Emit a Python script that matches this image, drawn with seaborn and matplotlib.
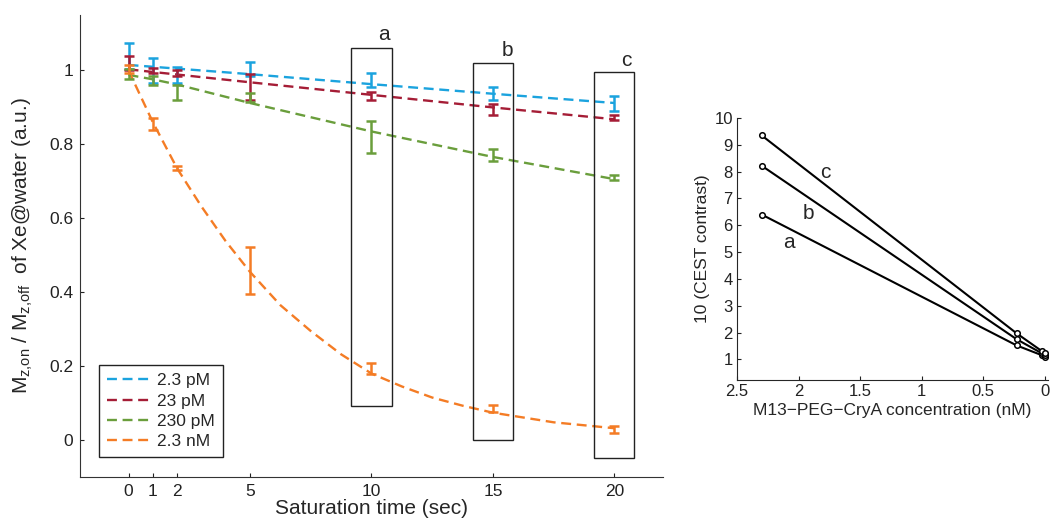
import numpy as np
import pandas as pd
import matplotlib
matplotlib.use("Agg")
import matplotlib.pyplot as plt
import seaborn as sns
from matplotlib.patches import Rectangle

sns.set_style("ticks")
plt.rcParams["font.family"] = ["Liberation Sans", "DejaVu Sans"]
plt.rcParams["mathtext.default"] = "regular"

# ---------------- left panel data ----------------
sat_time = [0, 1, 2, 5, 10, 15, 20]
series = ["2.3 pM", "23 pM", "230 pM", "2.3 nM"]
colors = ["#1ba3de", "#a51d36", "#6a9e3c", "#f47c25"]

mean_23pM_low = [1.040, 1.000, 0.988, 1.004, 0.974, 0.937, 0.910]
err_23pM_low = [0.035, 0.033, 0.022, 0.020, 0.019, 0.018, 0.021]
mean_23pM = [1.020, 1.000, 0.992, 0.955, 0.931, 0.894, 0.873]
err_23pM = [0.020, 0.008, 0.008, 0.035, 0.012, 0.014, 0.007]
mean_230pM = [0.990, 0.972, 0.940, 0.928, 0.820, 0.771, 0.710]
err_230pM = [0.013, 0.012, 0.020, 0.012, 0.043, 0.016, 0.007]
mean_23nM = [1.004, 0.855, 0.736, 0.459, 0.194, 0.086, 0.028]
err_23nM = [0.011, 0.016, 0.006, 0.063, 0.014, 0.009, 0.010]

# fitted curves
fit_t_lin = [0, 5, 10, 15, 20]
fit_23pM_low = [1.015, 0.990, 0.963, 0.937, 0.912]
fit_23pM = [1.003, 0.968, 0.934, 0.900, 0.868]
fit_t_green = [0, 1, 2, 5, 10, 15, 20]
fit_230pM = [0.988, 0.976, 0.962, 0.912, 0.835, 0.766, 0.706]
fit_t_orange = [0, 1, 2, 3, 4, 5, 6.25, 7.5, 8.75, 10, 11.25, 12.5, 13.75, 15, 17.5, 20]
fit_23nM = [1.0, 0.86, 0.735, 0.632, 0.538, 0.455, 0.365, 0.295, 0.232, 0.180,
            0.145, 0.115, 0.093, 0.074, 0.048, 0.032]

# boxes (x0, x1, y0, y1) and their labels
boxes = [(9.17, 10.83, 0.092, 1.061), (14.18, 15.81, 0.0, 1.021), (19.15, 20.79, -0.048, 0.995)]
box_labels = ["a", "b", "c"]
box_label_pos = [(10.5, 1.097), (15.58, 1.055), (20.5, 1.028)]

# ---------------- right panel data ----------------
conc = [2.3, 0.23, 0.023, 0.0023]
contrast_a = [6.40, 1.52, 1.15, 1.08]
contrast_b = [8.22, 1.75, 1.22, 1.15]
contrast_c = [9.35, 1.97, 1.30, 1.25]
line_label_pos = {"a": (2.08, 5.37), "b": (1.92, 6.45), "c": (1.78, 7.97)}

fig = plt.figure(figsize=(10.55, 5.22), dpi=100)
ax = fig.add_axes([0.0758, 0.0862, 0.5526, 0.885])
ax2 = fig.add_axes([0.6986, 0.272, 0.2948, 0.502])

fits = pd.concat([
    pd.DataFrame({"t": fit_t_lin, "y": fit_23pM_low, "s": series[0]}),
    pd.DataFrame({"t": fit_t_lin, "y": fit_23pM, "s": series[1]}),
    pd.DataFrame({"t": fit_t_green, "y": fit_230pM, "s": series[2]}),
    pd.DataFrame({"t": fit_t_orange, "y": fit_23nM, "s": series[3]}),
], ignore_index=True)

sns.lineplot(data=fits, x="t", y="y", hue="s", hue_order=series,
             palette=colors, ax=ax, lw=1.7, sort=False, estimator=None)
for ln in ax.get_lines():
    ln.set_dashes((4.2, 2.4))

means = [mean_23pM_low, mean_23pM, mean_230pM, mean_23nM]
errs = [err_23pM_low, err_23pM, err_230pM, err_23nM]
for m, e, c in zip(means, errs, colors):
    ax.errorbar(sat_time, m, yerr=e, fmt="none", ecolor=c, elinewidth=1.8,
                capsize=3.6, capthick=1.8, zorder=3)

for (x0, x1, y0, y1) in boxes:
    ax.add_patch(Rectangle((x0, y0), x1 - x0, y1 - y0, fill=False,
                           ec="#222222", lw=1.0, zorder=4))
for lab, (x, y) in zip(box_labels, box_label_pos):
    ax.text(x, y, lab, fontsize=15, ha="center", va="center")

ax.set_xlim(-2, 22)
ax.set_ylim(-0.1, 1.15)
ax.set_xticks(sat_time)
ax.set_yticks([0, 0.2, 0.4, 0.6, 0.8, 1.0])
ax.set_yticklabels(["0", "0.2", "0.4", "0.6", "0.8", "1"])
ax.tick_params(direction="in", length=3, labelsize=12.5, colors="#222222", pad=5)
ax.set_xlabel("Saturation time (sec)", fontsize=15, labelpad=0)
ax.set_ylabel(r"M$_{z{,}on}$ / M$_{z{,}off}$  of Xe@water (a.u.)", fontsize=15, labelpad=10)
for sp in ["top", "right"]:
    ax.spines[sp].set_visible(False)
for sp in ["left", "bottom"]:
    ax.spines[sp].set_color("#333333")

leg = ax.legend(loc="lower left", bbox_to_anchor=(0.033, 0.043), borderaxespad=0,
                fontsize=12.5, handlelength=2.5, labelspacing=0.3, handletextpad=0.4,
                fancybox=False, framealpha=1, edgecolor="#222222", borderpad=0.45)
leg.get_frame().set_linewidth(1.0)
for h in leg.get_lines():
    h.set_dashes((4.2, 2.4))

# ---------------- right panel ----------------
right = pd.concat([
    pd.DataFrame({"conc": conc, "v": contrast_a, "line": "a"}),
    pd.DataFrame({"conc": conc, "v": contrast_b, "line": "b"}),
    pd.DataFrame({"conc": conc, "v": contrast_c, "line": "c"}),
], ignore_index=True)
sns.lineplot(data=right, x="conc", y="v", units="line", estimator=None, color="black",
             lw=1.5, marker="o", markersize=4, markerfacecolor="white",
             markeredgecolor="black", markeredgewidth=1.1, ax=ax2, sort=False)
for lab, (x, y) in line_label_pos.items():
    ax2.text(x, y, lab, fontsize=15, ha="center", va="center")

ax2.set_xlim(2.5, -0.025)
ax2.set_ylim(0.23, 10)
ax2.set_xticks([2.5, 2, 1.5, 1, 0.5, 0])
ax2.set_xticklabels(["2.5", "2", "1.5", "1", "0.5", "0"])
ax2.set_yticks(range(1, 11))
ax2.tick_params(direction="in", length=3, labelsize=12, colors="#222222", pad=3)
ax2.set_xlabel("M13\u2212PEG\u2212CryA concentration (nM)", fontsize=12.5, labelpad=3)
ax2.set_ylabel("10 (CEST contrast)", fontsize=12.5, labelpad=3)
for sp in ["top", "right"]:
    ax2.spines[sp].set_visible(False)

fig.savefig("out.png", dpi=100)
